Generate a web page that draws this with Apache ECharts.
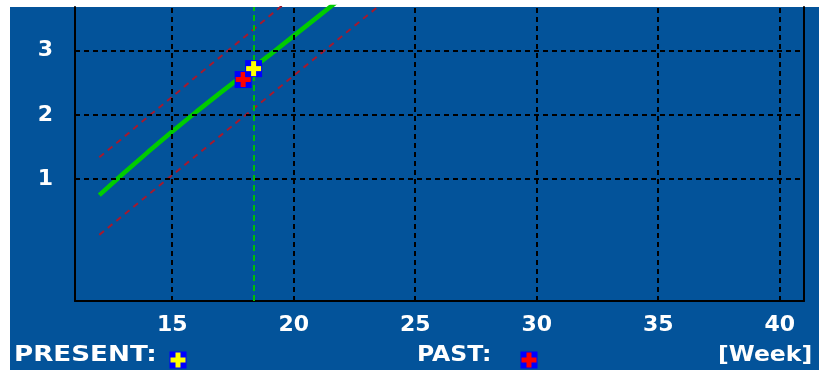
<!DOCTYPE html>
<html>
<head>
<meta charset="utf-8">
<script src="https://cdn.jsdelivr.net/npm/echarts@6/dist/echarts.min.js"></script>
<style>html,body{margin:0;padding:0;background:#fff}#c{width:819px;height:370px}</style>
</head>
<body>
<div id="c"></div>
<script>
// ---- data ----
const trendWeeks  = [12, 13, 14, 15, 16, 17, 18, 19, 20, 21, 22];
const trendValues = [0.75, 1.09, 1.42, 1.74, 2.05, 2.35, 2.64, 2.93, 3.23, 3.53, 3.83];
const upperWeeks  = [12, 13, 14, 15, 16, 17, 18, 19, 20];
const upperValues = [1.34, 1.65, 1.97, 2.28, 2.60, 2.91, 3.22, 3.54, 3.85];
const lowerWeeks  = [12, 13, 14, 15, 16, 17, 18, 19, 20, 21, 22, 23, 24];
const lowerValues = [0.13, 0.44, 0.75, 1.06, 1.37, 1.68, 1.99, 2.30, 2.61, 2.92, 3.23, 3.54, 3.85];
const presentPoint = [18.35, 2.72];
const pastPoint    = [17.92, 2.55];
const xTicks = [15, 20, 25, 30, 35, 40];
const yTicks = [1, 2, 3];
const legendLabels = ['PRESENT:', 'PAST:'];
const unitLabel = '[Week]';

const BG = '#03539a';
const FONT = 'DejaVu Sans';
const zip = (a, b) => a.map((v, i) => [v, b[i]]);

function markerShape(cx, cy, color) {
  const s = 17, t = 5;
  return [
    {type: 'rect', shape: {x: cx - s / 2, y: cy - s / 2, width: s, height: s}, style: {fill: '#0000ff'}},
    {type: 'rect', shape: {x: cx - t / 2, y: cy - s / 2 + 1, width: t, height: s - 2}, style: {fill: color}},
    {type: 'rect', shape: {x: cx - s / 2 + 1, y: cy - t / 2, width: s - 2, height: t}, style: {fill: color}}
  ];
}
function markerSeries(name, point, color) {
  return {
    name: name, type: 'custom', z: 5, data: [point], animation: false,
    renderItem: function (params, api) {
      const p = api.coord([api.value(0), api.value(1)]);
      return {type: 'group', children: markerShape(p[0], p[1], color)};
    }
  };
}
const gridLine = {color: '#000', width: 2, type: [5, 4]};
const gridMarks = xTicks.map(v => ({xAxis: v, lineStyle: gridLine}))
  .concat(yTicks.map(v => ({yAxis: v, lineStyle: gridLine})));

const chart = echarts.init(document.getElementById('c'), null, {renderer: 'canvas'});
chart.setOption({
  backgroundColor: '#fff',
  animation: false,
  grid: {left: 75, right: 15, top: 7, bottom: 69, show: false},
  xAxis: {
    type: 'value', min: 11, max: 41,
    axisLine: {show: true, onZero: false, lineStyle: {color: '#000', width: 2}},
    axisTick: {show: false},
    splitLine: {show: false},
    axisLabel: {customValues: xTicks, color: '#fff', fontFamily: FONT, fontWeight: 'bold', fontSize: 22, margin: 13}
  },
  yAxis: [{
    type: 'value', min: -0.9, max: 3.68,
    axisLine: {show: true, onZero: false, lineStyle: {color: '#000', width: 2}},
    axisTick: {show: false},
    splitLine: {show: false},
    axisLabel: {customValues: yTicks, color: '#fff', fontFamily: FONT, fontWeight: 'bold', fontSize: 22, margin: 22}
  }, {
    type: 'value', min: -0.9, max: 3.68, position: 'right',
    axisLine: {show: true, onZero: false, lineStyle: {color: '#000', width: 2}},
    axisTick: {show: false}, axisLabel: {show: false}, splitLine: {show: false}
  }],
  graphic: [
    {type: 'rect', z: -10, shape: {x: 10, y: 7, width: 809, height: 363}, style: {fill: BG}, silent: true},
    {type: 'text', x: 14, y: 355, scaleX: 1.19, style: {text: legendLabels[0], fill: '#fff', font: 'bold 22px "DejaVu Sans"', align: 'left', verticalAlign: 'middle'}},
    {type: 'group', children: markerShape(178, 360, '#ffff00')},
    {type: 'text', x: 417, y: 355, scaleX: 1.07, style: {text: legendLabels[1], fill: '#fff', font: 'bold 22px "DejaVu Sans"', align: 'left', verticalAlign: 'middle'}},
    {type: 'group', children: markerShape(529, 360, '#ff0000')},
    {type: 'text', x: 718, y: 355, scaleX: 1.07, style: {text: unitLabel, fill: '#fff', font: 'bold 22px "DejaVu Sans"', align: 'left', verticalAlign: 'middle'}}
  ],
  series: [
    {
      name: 'upper', type: 'line', z: 2, data: zip(upperWeeks, upperValues), showSymbol: false,
      lineStyle: {color: '#a51a2e', width: 2, type: [6, 5]},
      markLine: {silent: true, symbol: 'none', label: {show: false}, animation: false, data: gridMarks}
    },
    {
      name: 'lower', type: 'line', z: 2, data: zip(lowerWeeks, lowerValues), showSymbol: false,
      lineStyle: {color: '#a51a2e', width: 2, type: [6, 5]}
    },
    {
      name: 'trend', type: 'line', z: 3, data: zip(trendWeeks, trendValues), showSymbol: false,
      lineStyle: {color: '#00cc00', width: 4.5},
      markLine: {silent: true, symbol: 'none', label: {show: false}, animation: false,
        data: [{xAxis: presentPoint[0], lineStyle: {color: '#00c000', width: 2, type: [6, 4]}}]}
    },
    markerSeries('PAST', pastPoint, '#ff0000'),
    markerSeries('PRESENT', presentPoint, '#ffff00')
  ]
});
</script>
</body>
</html>
